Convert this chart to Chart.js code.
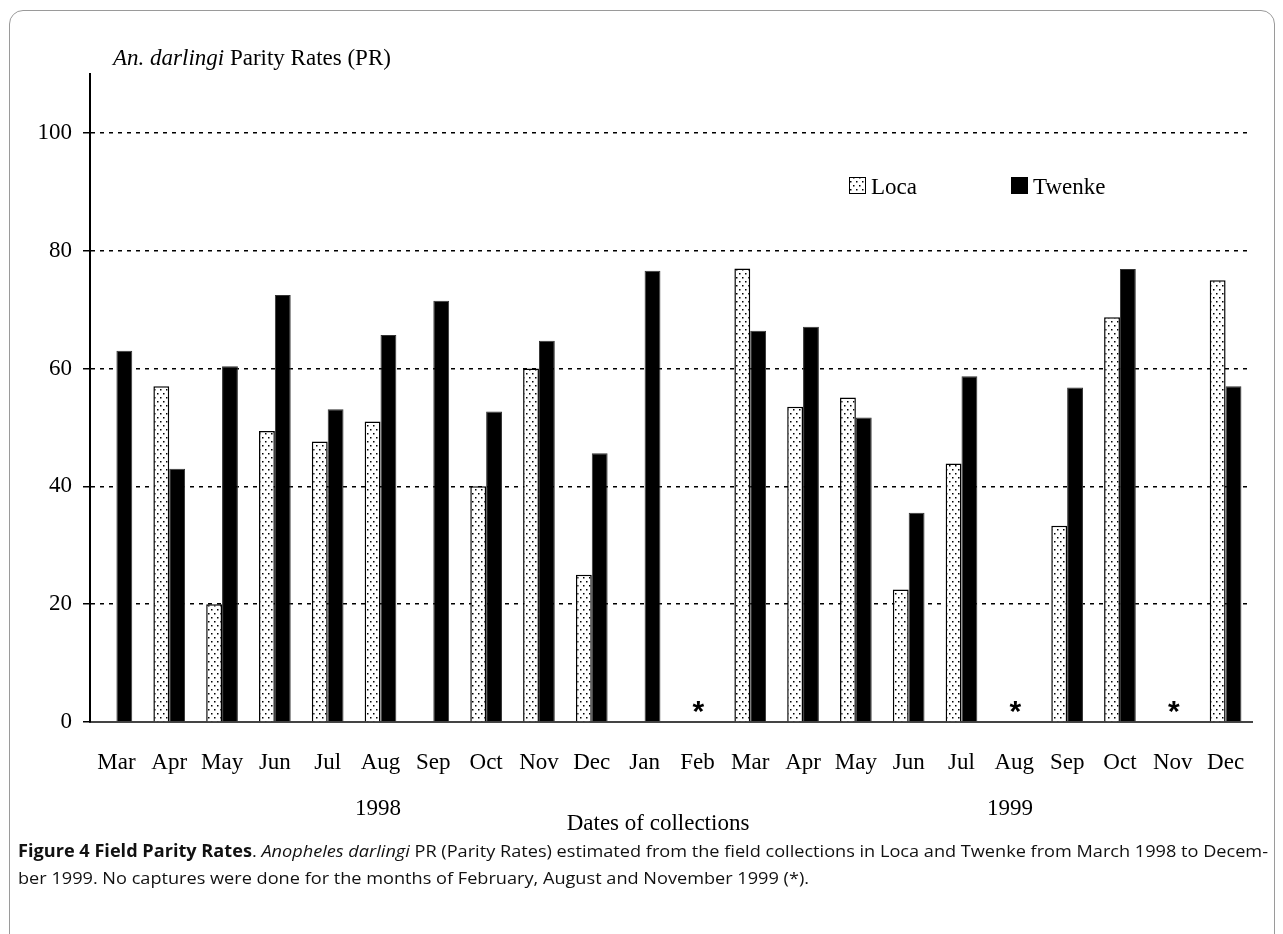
<!DOCTYPE html>
<html>
<head>
<meta charset="utf-8">
<script src="https://cdn.jsdelivr.net/npm/chart.js@4"></script>
<style>
  html, body { margin: 0; padding: 0; background: #fff; }
  body { width: 1283px; height: 934px; overflow: hidden; position: relative; }
  #frame { position: absolute; left: 9px; top: 10px; width: 1266px; height: 1000px;
           border: 1px solid #9a9a9a; border-radius: 14px; box-sizing: border-box; }
  #chart { position: absolute; left: 0; top: 0; }
  .ln { position: absolute; left: 18px; white-space: nowrap; display: inline-block;
        font-family: "Open Sans", sans-serif; font-size: 17px; line-height: 22px;
        color: #111; transform-origin: 0 0; }
</style>
</head>
<body>
<div id="frame"></div>
<canvas id="chart" width="1283" height="934"></canvas>
<div class="ln" id="l1" style="top:840px"><b>Figure 4 Field Parity Rates</b>. <i>Anopheles darlingi</i> PR (Parity Rates) estimated from the field collections in Loca and Twenke from March 1998 to Decem-</div>
<div class="ln" id="l2" style="top:867px">ber 1999. No captures were done for the months of February, August and November 1999 (*).</div>
<script>
// Collection months, March 1998 to December 1999
const months = ['Mar','Apr','May','Jun','Jul','Aug','Sep','Oct','Nov','Dec','Jan','Feb',
                'Mar','Apr','May','Jun','Jul','Aug','Sep','Oct','Nov','Dec'];
// Parity rates (%) per site; null = no value for that month
const loca   = [null, 57.0, 20.0, 49.4, 47.6, 51.0, null, 40.0, 60.0, 25.0, null, null,
                77.0, 53.5, 55.1, 22.5, 43.9, null, 33.3, 68.7, null, 75.0];
const twenke = [63.0, 43.0, 60.4, 72.5, 53.1, 65.7, 71.5, 52.7, 64.7, 45.6, 76.6, null,
                66.4, 67.1, 51.7, 35.5, 58.7, null, 56.8, 76.9, null, 57.0];
const yTicks = [0, 20, 40, 60, 80, 100];
const years  = ['1998', '1999'];

const SERIF = '"Liberation Serif", "Times New Roman", serif';
const FS = 23;

// Dotted fill used for the Loca bars
function dotPattern() {
  const c = document.createElement('canvas');
  c.width = 6; c.height = 8;
  const g = c.getContext('2d');
  g.fillStyle = '#fff'; g.fillRect(0, 0, 6, 8);
  g.fillStyle = '#000';
  g.fillRect(1, 1, 1.5, 1.5);
  g.fillRect(4, 5, 1.5, 1.5);
  return g.createPattern(c, 'repeat');
}
const dots = dotPattern();

// Axis title, legend, year labels and "no capture" markers
const decorations = {
  id: 'decorations',
  afterDraw(chart) {
    const { ctx, chartArea: a, scales: { x, y } } = chart;
    ctx.save();
    ctx.fillStyle = '#000';
    ctx.textBaseline = 'alphabetic';
    ctx.textAlign = 'left';

    // y-axis title
    let tx = a.left + 23;
    const ty = a.top - 9;
    ctx.font = 'italic ' + FS + 'px ' + SERIF;
    ctx.fillText('An. darlingi', tx, ty);
    tx += ctx.measureText('An. darlingi').width;
    ctx.font = FS + 'px ' + SERIF;
    ctx.fillText(' Parity Rates (PR)', tx, ty);

    // legend
    const ly = 177, box = 17;
    const items = [
      { label: chart.data.datasets[0].label, fill: dots, x: 849 },
      { label: chart.data.datasets[1].label, fill: '#000', x: 1011 }
    ];
    items.forEach(it => {
      ctx.fillStyle = it.fill;
      ctx.fillRect(it.x, ly, box, box);
      ctx.strokeStyle = '#000';
      ctx.lineWidth = 1;
      ctx.strokeRect(it.x + 0.5, ly + 0.5, box - 1, box - 1);
      ctx.fillStyle = '#000';
      ctx.font = FS + 'px ' + SERIF;
      ctx.fillText(it.label, it.x + box + 5, ly + box);
    });

    // year labels and x-axis title
    ctx.textAlign = 'center';
    ctx.font = FS + 'px ' + SERIF;
    ctx.fillText(years[0], 378, 815);
    ctx.fillText(years[1], 1010, 815);
    ctx.fillText('Dates of collections', 658, 830);

    // asterisk where neither site was sampled
    ctx.font = 'bold 30px "Liberation Sans", Arial, sans-serif';
    months.forEach((m, i) => {
      if (loca[i] == null && twenke[i] == null) {
        ctx.fillText('*', x.getPixelForValue(i) + 1, y.getPixelForValue(0) - 1);
      }
    });
    ctx.restore();
  }
};

new Chart(document.getElementById('chart'), {
  type: 'bar',
  data: {
    labels: months,
    datasets: [
      { label: 'Loca', data: loca, backgroundColor: dots, borderColor: '#000', borderWidth: 1.5,
        borderSkipped: 'bottom' },
      { label: 'Twenke', data: twenke, backgroundColor: '#000', borderColor: '#333', borderWidth: 1,
        borderSkipped: 'bottom' }
    ]
  },
  options: {
    responsive: false,
    animation: false,
    devicePixelRatio: 1,
    layout: { padding: { top: 74, right: 31, left: 0, bottom: 0 } },
    datasets: { bar: { categoryPercentage: 0.6, barPercentage: 1.0 } },
    plugins: { legend: { display: false }, tooltip: { enabled: false } },
    scales: {
      x: {
        grid: { display: false, drawTicks: false },
        border: { display: true, color: '#444', width: 2 },
        ticks: { color: '#000', font: { family: SERIF, size: FS }, padding: 27,
                 maxRotation: 0, autoSkip: false },
        afterFit: s => { s.height = 212; }
      },
      y: {
        min: 0, max: 110,
        afterBuildTicks: s => { s.ticks = yTicks.map(v => ({ value: v })); },
        grid: {
          color: c => (c.tick && c.tick.value === 0) ? 'rgba(0,0,0,0)' : '#000',
          lineWidth: 1.5,
          tickColor: '#000', tickLength: 7, tickWidth: 1.5
        },
        border: { display: true, color: '#000', width: 2, dash: [4, 5] },
        ticks: { color: '#000', font: { family: SERIF, size: FS }, padding: 11 },
        afterFit: s => { s.width = 90; }
      }
    }
  },
  plugins: [decorations]
});

// Fit the caption's first line to the frame width
const l1 = document.getElementById('l1'), l2 = document.getElementById('l2');
const k = 1250 / l1.getBoundingClientRect().width;
l1.style.transform = 'scaleX(' + k + ')';
l2.style.transform = 'scaleX(' + k + ')';
</script>
</body>
</html>
